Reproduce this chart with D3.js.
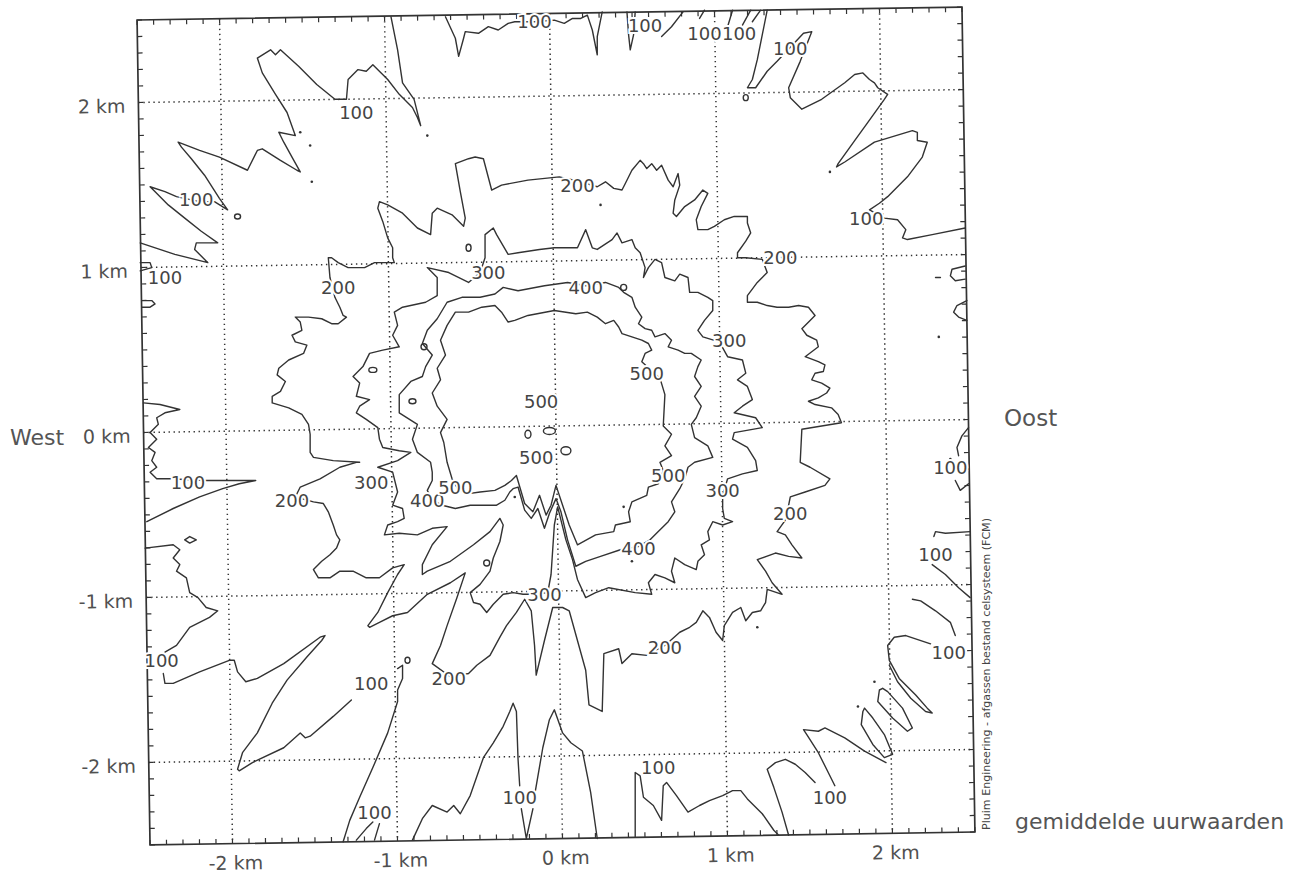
<!DOCTYPE html>
<html><head><meta charset="utf-8">
<script src="https://cdn.jsdelivr.net/npm/d3@7"></script>
<style>body{margin:0;background:#fff}svg{display:block}</style>
</head><body>
<svg id="chart" width="1300" height="884"></svg>
<script>
// ---- data (km) ----
const xTicks = [-2, -1, 0, 1, 2];
const yTicks = [2, 1, 0, -1, -2];
const xTickLabels = ["-2 km", "-1 km", "0 km", "1 km", "2 km"];
const yTickLabels = ["2 km", "1 km", "0 km", "-1 km", "-2 km"];
const levels = [100, 200, 300, 400, 500];

const contour100 = [
 [[-2.52,1.11],[-2.31,1.04],[-2.11,0.99],[-2.19,1.07],[-2.18,1.11],[-2.05,1.11],[-2.15,1.18],[-2.25,1.26],[-2.35,1.34],[-2.44,1.43],[-2.46,1.45],[-2.37,1.42],[-2.30,1.39],[-2.16,1.36],[-2.07,1.36],[-1.99,1.31],[-2.04,1.38],[-2.13,1.52],[-2.21,1.62],[-2.27,1.69],[-2.29,1.72],[-2.16,1.67],[-2.04,1.63],[-1.87,1.55],[-1.81,1.67],[-1.78,1.68],[-1.67,1.61],[-1.57,1.55],[-1.55,1.54],[-1.60,1.63],[-1.65,1.72],[-1.68,1.78],[-1.58,1.76],[-1.63,1.90],[-1.70,2.01],[-1.78,2.14],[-1.81,2.23],[-1.73,2.28],[-1.70,2.25],[-1.67,2.28],[-1.56,2.18],[-1.45,2.07],[-1.34,1.98],[-1.27,1.98],[-1.26,2.10],[-1.20,2.16],[-1.15,2.15],[-1.11,2.19],[-1.02,2.10],[-0.95,2.01],[-0.87,1.93],[-0.84,1.87],[-0.82,1.82],[-0.86,1.98],[-0.93,2.08],[-0.96,2.28],[-1.00,2.48]],
 [[-2.52,0.99],[-2.46,0.99],[-2.45,0.96],[-2.52,0.94]],
 [[-0.67,2.48],[-0.61,2.35],[-0.59,2.24],[-0.56,2.35],[-0.55,2.39],[-0.47,2.38],[-0.41,2.42],[-0.35,2.40],[-0.29,2.44],[-0.25,2.45],[-0.13,2.45],[-0.01,2.46],[0.05,2.44],[0.10,2.47],[0.15,2.47],[0.19,2.49],[0.22,2.40],[0.25,2.25],[0.25,2.36],[0.28,2.51]],
 [[0.43,2.51],[0.44,2.37],[0.45,2.28],[0.47,2.37],[0.48,2.51]],
 [[0.64,2.36],[0.70,2.42],[0.77,2.51]],
 [[0.87,2.47],[0.90,2.52]],
 [[1.04,2.42],[1.07,2.52]],
 [[1.13,2.43],[1.18,2.52]],
 [[1.19,2.45],[1.24,2.52]],
 [[1.28,2.52],[1.25,2.37],[1.22,2.22],[1.19,2.10],[1.16,2.05],[1.21,2.05],[1.28,2.15],[1.34,2.21],[1.50,2.38],[1.55,2.39],[1.48,2.21],[1.41,2.05],[1.42,1.99],[1.49,1.92],[1.61,1.98],[1.75,2.08],[1.81,2.13],[1.86,2.14],[1.90,2.10],[1.93,2.08],[1.95,2.05],[2.01,2.01],[1.99,1.98],[1.89,1.84],[1.81,1.73],[1.71,1.59],[1.70,1.57],[1.75,1.60],[1.93,1.72],[2.16,1.79],[2.19,1.78],[2.19,1.73],[2.25,1.72],[2.22,1.63],[2.13,1.51],[2.01,1.39],[1.96,1.35],[1.90,1.31],[1.99,1.26],[2.07,1.25],[2.12,1.19],[2.10,1.14],[2.13,1.13],[2.28,1.16],[2.48,1.20]],
 [[2.48,0.97],[2.40,0.95],[2.39,0.91],[2.42,0.88],[2.48,0.89]],
 [[2.30,0.90],[2.33,0.90]],
 [[2.49,0.76],[2.43,0.73],[2.41,0.69],[2.44,0.66],[2.49,0.64]],
 [[2.50,-0.01],[2.46,-0.06],[2.43,-0.13],[2.44,-0.18]],
 [[2.42,-0.33],[2.45,-0.39],[2.50,-0.35]],
 [[2.51,-0.64],[2.36,-0.65],[2.30,-0.64],[2.29,-0.67]],
 [[2.28,-0.84],[2.36,-0.90],[2.44,-0.98],[2.51,-1.04]],
 [[2.16,-1.05],[2.21,-1.06],[2.30,-1.12],[2.39,-1.19],[2.42,-1.27]],
 [[2.27,-1.32],[2.12,-1.27],[2.05,-1.28],[2.01,-1.33],[2.02,-1.42],[2.08,-1.53],[2.18,-1.63],[2.25,-1.71],[2.28,-1.74],[2.24,-1.73],[2.15,-1.65],[2.07,-1.55],[2.02,-1.45]],
 [[1.98,-1.59],[2.01,-1.61],[2.10,-1.71],[2.16,-1.83],[2.13,-1.85],[2.04,-1.77],[1.95,-1.67],[1.96,-1.60],[1.98,-1.59]],
 [[1.87,-1.71],[1.92,-1.77],[1.99,-1.87],[2.04,-1.99],[1.99,-2.01],[1.92,-1.93],[1.85,-1.81],[1.86,-1.73],[1.87,-1.71]],
 [[2.00,-2.04],[1.87,-1.97],[1.75,-1.89],[1.63,-1.83],[1.59,-1.85],[1.50,-1.84],[1.52,-1.87],[1.59,-1.98],[1.65,-2.10],[1.69,-2.18]],
 [[1.41,-2.48],[1.37,-2.34],[1.32,-2.19],[1.28,-2.08],[1.33,-2.04],[1.39,-2.02],[1.45,-2.05],[1.51,-2.10],[1.57,-2.16]],
 [[0.48,-2.49],[0.48,-2.10],[0.51,-2.12],[0.53,-2.25],[0.59,-2.30],[0.64,-2.39],[0.65,-2.18],[0.67,-2.16],[0.73,-2.24],[0.80,-2.34],[0.87,-2.30],[0.93,-2.27],[1.01,-2.24],[1.07,-2.21],[1.12,-2.21],[1.16,-2.26],[1.25,-2.35],[1.32,-2.45],[1.35,-2.48]],
 [[-0.13,-2.24],[-0.08,-1.95],[-0.04,-1.78],[-0.01,-1.72],[0.04,-1.86],[0.09,-1.92],[0.16,-1.97],[0.21,-2.22],[0.25,-2.50]],
 [[-0.21,-2.32],[-0.18,-2.50],[-0.14,-2.32]],
 [[-0.87,-2.51],[-0.81,-2.38],[-0.75,-2.30],[-0.66,-2.34],[-0.62,-2.30],[-0.58,-2.35],[-0.52,-2.24],[-0.44,-2.01],[-0.38,-1.92],[-0.32,-1.82],[-0.28,-1.73],[-0.26,-1.68],[-0.24,-1.73],[-0.23,-2.02],[-0.22,-2.18]],
 [[-1.21,-2.51],[-1.15,-2.44],[-1.11,-2.40]],
 [[-1.10,-2.51],[-1.07,-2.41]],
 [[-0.96,-1.47],[-0.93,-1.45],[-0.93,-1.53],[-0.96,-1.60],[-0.96,-1.67],[-1.02,-1.86],[-1.11,-2.07],[-1.19,-2.25],[-1.25,-2.39],[-1.29,-2.52]],
 [[-2.38,-1.50],[-2.37,-1.56],[-2.32,-1.56],[-2.16,-1.49],[-1.98,-1.42],[-1.95,-1.42],[-1.93,-1.49],[-1.88,-1.55],[-1.81,-1.53],[-1.65,-1.44],[-1.43,-1.28],[-1.40,-1.27],[-1.42,-1.30],[-1.51,-1.40],[-1.63,-1.54],[-1.72,-1.68],[-1.81,-1.86],[-1.90,-1.98],[-1.93,-2.08],[-1.92,-2.09],[-1.84,-2.04],[-1.65,-1.95],[-1.55,-1.86],[-1.52,-1.89],[-1.49,-1.88],[-1.35,-1.76],[-1.24,-1.66]],
 [[-2.49,-0.74],[-2.32,-0.72],[-2.28,-0.75],[-2.32,-0.80],[-2.28,-0.84],[-2.30,-0.88],[-2.24,-0.92],[-2.22,-1.01],[-2.17,-1.04],[-2.12,-1.10],[-2.05,-1.12],[-2.10,-1.16],[-2.22,-1.22],[-2.30,-1.33],[-2.37,-1.37]],
 [[-2.25,-0.69],[-2.22,-0.67],[-2.18,-0.69],[-2.22,-0.71],[-2.25,-0.69]],
 [[-2.50,0.14],[-2.40,0.13],[-2.28,0.10],[-2.37,0.08],[-2.42,0.05],[-2.41,0.01],[-2.46,-0.04],[-2.42,-0.08],[-2.47,-0.13],[-2.43,-0.16],[-2.45,-0.21],[-2.42,-0.25],[-2.46,-0.28],[-2.42,-0.32],[-2.34,-0.32],[-2.13,-0.33],[-1.99,-0.33],[-1.82,-0.33],[-1.92,-0.35],[-2.02,-0.38],[-2.16,-0.43],[-2.32,-0.50],[-2.48,-0.58]],
 [[-2.51,0.76],[-2.45,0.76],[-2.43,0.74],[-2.46,0.72],[-2.51,0.72]]
];

const contour200 = [
 [[-1.49,-0.05],[-1.50,0.01],[-1.54,0.07],[-1.62,0.11],[-1.72,0.14],[-1.72,0.18],[-1.67,0.21],[-1.64,0.27],[-1.69,0.31],[-1.68,0.35],[-1.62,0.40],[-1.53,0.44],[-1.51,0.49],[-1.58,0.51],[-1.60,0.55],[-1.54,0.58],[-1.55,0.63],[-1.58,0.66],[-1.50,0.66],[-1.42,0.65],[-1.36,0.62],[-1.32,0.62],[-1.27,0.66],[-1.29,0.67],[-1.31,0.72],[-1.34,0.78],[-1.37,0.90],[-1.38,1.02],[-1.36,1.02],[-1.32,0.99],[-1.26,0.96],[-1.16,0.96],[-1.10,0.99],[-0.98,0.99],[-0.99,1.02],[-0.99,1.08],[-1.02,1.14],[-1.05,1.24],[-1.08,1.32],[-1.07,1.36],[-1.02,1.34],[-0.93,1.29],[-0.84,1.20],[-0.76,1.16],[-0.75,1.29],[-0.72,1.32],[-0.63,1.28],[-0.56,1.21],[-0.55,1.26],[-0.58,1.42],[-0.61,1.59],[-0.53,1.62],[-0.49,1.63],[-0.44,1.62],[-0.39,1.43],[-0.33,1.46],[-0.17,1.49],[0.02,1.51],[0.15,1.48],[0.25,1.45],[0.30,1.48],[0.35,1.44],[0.40,1.43],[0.42,1.47],[0.46,1.55],[0.51,1.61],[0.53,1.59],[0.55,1.56],[0.58,1.59],[0.61,1.55],[0.64,1.58],[0.68,1.49],[0.71,1.45],[0.74,1.53],[0.75,1.46],[0.72,1.37],[0.71,1.29],[0.73,1.27],[0.78,1.33],[0.84,1.37],[0.89,1.43],[0.92,1.41],[0.88,1.33],[0.85,1.25],[0.86,1.19],[0.92,1.19],[0.96,1.21],[1.02,1.25],[1.08,1.27],[1.16,1.27],[1.16,1.23],[1.18,1.17],[1.15,1.12],[1.10,1.05],[1.10,1.02],[1.15,1.02],[1.25,1.01],[1.28,0.93],[1.22,0.87],[1.16,0.79],[1.16,0.75],[1.22,0.75],[1.28,0.73],[1.34,0.72],[1.41,0.72],[1.47,0.73],[1.53,0.72],[1.57,0.67],[1.54,0.64],[1.49,0.59],[1.52,0.55],[1.58,0.52],[1.59,0.48],[1.55,0.45],[1.51,0.42],[1.59,0.39],[1.63,0.37],[1.62,0.33],[1.57,0.32],[1.55,0.28],[1.61,0.26],[1.66,0.23],[1.64,0.20],[1.59,0.17],[1.53,0.15],[1.57,0.13],[1.67,0.11],[1.71,0.07],[1.73,0.02],[1.49,-0.02],[1.48,-0.22],[1.54,-0.25],[1.66,-0.32],[1.63,-0.36],[1.51,-0.40],[1.42,-0.43],[1.41,-0.48],[1.39,-0.57],[1.34,-0.64],[1.39,-0.66],[1.43,-0.72],[1.49,-0.80],[1.41,-0.79],[1.33,-0.77],[1.22,-0.81],[1.27,-0.88],[1.31,-0.95],[1.37,-1.02],[1.28,-0.99],[1.27,-1.07],[1.24,-1.12],[1.19,-1.13],[1.15,-1.18],[1.12,-1.10],[1.07,-1.13],[1.02,-1.21],[1.01,-1.30],[0.97,-1.25],[0.93,-1.16],[0.89,-1.12],[0.85,-1.19],[0.81,-1.22],[0.75,-1.25],[0.66,-1.33],[0.55,-1.39],[0.46,-1.38],[0.40,-1.44],[0.38,-1.35],[0.29,-1.38],[0.28,-1.73],[0.20,-1.69],[0.18,-1.48],[0.13,-1.30],[0.08,-1.12],[0.04,-1.10],[-0.02,-1.10],[-0.07,-1.30],[-0.12,-1.51],[-0.13,-1.33],[-0.15,-1.12],[-0.19,-1.05],[-0.24,-1.13],[-0.30,-1.21],[-0.34,-1.28],[-0.40,-1.39],[-0.48,-1.45],[-0.53,-1.50],[-0.64,-1.52],[-0.75,-1.44],[-0.70,-1.33],[-0.66,-1.21],[-0.60,-1.04],[-0.55,-0.89],[-0.64,-0.95],[-0.78,-1.02],[-0.90,-1.13],[-0.99,-1.15],[-1.07,-1.19],[-1.13,-1.22],[-1.14,-1.21],[-1.08,-1.13],[-1.02,-1.01],[-0.96,-0.90],[-0.92,-0.84],[-0.99,-0.86],[-1.07,-0.92],[-1.13,-0.92],[-1.15,-0.92],[-1.23,-0.88],[-1.31,-0.88],[-1.37,-0.92],[-1.44,-0.92],[-1.47,-0.87],[-1.42,-0.82],[-1.37,-0.78],[-1.33,-0.74],[-1.31,-0.69],[-1.33,-0.66],[-1.35,-0.60],[-1.38,-0.52],[-1.41,-0.47],[-1.47,-0.46],[-1.58,-0.43],[-1.55,-0.37],[-1.43,-0.32],[-1.31,-0.25],[-1.21,-0.22],[-1.19,-0.22],[-1.35,-0.21],[-1.47,-0.19],[-1.49,-0.16],[-1.49,-0.05]]
];

const contour300 = [
 [[-1.08,-0.25],[-0.96,-0.21],[-0.88,-0.16],[-0.95,-0.15],[-1.05,-0.13],[-1.07,-0.08],[-1.08,-0.01],[-1.15,0.04],[-1.21,0.08],[-1.19,0.12],[-1.13,0.16],[-1.21,0.18],[-1.19,0.26],[-1.23,0.30],[-1.17,0.36],[-1.13,0.44],[-1.05,0.46],[-0.95,0.48],[-0.99,0.55],[-0.96,0.61],[-0.98,0.69],[-0.93,0.72],[-0.79,0.75],[-0.72,0.79],[-0.72,0.90],[-0.78,0.96],[-0.65,0.93],[-0.53,0.87],[-0.46,0.93],[-0.43,1.02],[-0.43,1.16],[-0.38,1.20],[-0.36,1.16],[-0.29,1.04],[-0.23,1.05],[-0.10,1.07],[-0.01,1.08],[0.13,1.08],[0.18,1.19],[0.22,1.08],[0.25,1.07],[0.34,1.13],[0.37,1.17],[0.40,1.11],[0.46,1.13],[0.48,1.08],[0.51,1.05],[0.54,0.96],[0.53,0.90],[0.56,0.96],[0.60,1.01],[0.64,0.99],[0.66,0.90],[0.72,0.88],[0.75,0.92],[0.80,0.90],[0.81,0.81],[0.86,0.81],[0.92,0.78],[0.95,0.76],[0.95,0.70],[0.90,0.64],[0.86,0.58],[0.89,0.54],[0.99,0.51],[1.04,0.42],[1.13,0.40],[1.15,0.32],[1.10,0.28],[1.16,0.24],[1.19,0.16],[1.13,0.12],[1.08,0.08],[1.21,0.05],[1.25,-0.01],[1.08,-0.04],[1.07,-0.08],[1.16,-0.13],[1.21,-0.21],[1.22,-0.27],[1.13,-0.29],[1.04,-0.32],[1.01,-0.42],[1.01,-0.50],[1.02,-0.56],[1.07,-0.58],[1.01,-0.60],[0.95,-0.58],[0.92,-0.64],[0.93,-0.69],[0.88,-0.72],[0.90,-0.78],[0.86,-0.82],[0.85,-0.87],[0.78,-0.84],[0.72,-0.80],[0.70,-0.88],[0.72,-0.95],[0.66,-0.92],[0.60,-0.90],[0.56,-0.95],[0.58,-1.02],[0.48,-1.01],[0.32,-0.98],[0.24,-1.01],[0.18,-1.04],[0.13,-0.93],[0.10,-0.81],[0.06,-0.69],[0.03,-0.57],[0.01,-0.49],[-0.01,-0.60],[-0.02,-0.75],[-0.03,-0.90],[-0.05,-1.01],[-0.13,-1.02],[-0.20,-1.02],[-0.26,-1.01],[-0.32,-1.02],[-0.38,-1.08],[-0.42,-1.13],[-0.46,-1.08],[-0.50,-1.07],[-0.52,-1.01],[-0.46,-0.96],[-0.40,-0.88],[-0.38,-0.80],[-0.34,-0.70],[-0.32,-0.60],[-0.34,-0.56],[-0.40,-0.64],[-0.50,-0.72],[-0.64,-0.82],[-0.78,-0.88],[-0.81,-0.90],[-0.81,-0.84],[-0.75,-0.72],[-0.66,-0.61],[-0.75,-0.62],[-0.84,-0.66],[-0.95,-0.65],[-1.04,-0.66],[-1.02,-0.60],[-0.96,-0.58],[-0.92,-0.56],[-0.93,-0.50],[-0.99,-0.48],[-0.96,-0.40],[-0.99,-0.28],[-1.08,-0.25]]
];

const contour400 = [
 [[-0.75,-0.28],[-0.76,-0.22],[-0.84,-0.16],[-0.87,-0.08],[-0.84,0.01],[-0.95,0.08],[-0.95,0.19],[-0.88,0.27],[-0.81,0.30],[-0.79,0.36],[-0.75,0.43],[-0.81,0.50],[-0.78,0.58],[-0.72,0.65],[-0.66,0.75],[-0.57,0.78],[-0.46,0.78],[-0.37,0.80],[-0.32,0.84],[-0.23,0.82],[-0.07,0.85],[0.07,0.87],[0.18,0.85],[0.30,0.87],[0.38,0.84],[0.41,0.81],[0.46,0.78],[0.48,0.72],[0.52,0.66],[0.50,0.62],[0.54,0.59],[0.58,0.58],[0.60,0.54],[0.66,0.56],[0.70,0.52],[0.68,0.48],[0.74,0.46],[0.78,0.44],[0.82,0.44],[0.88,0.40],[0.86,0.36],[0.84,0.30],[0.88,0.24],[0.84,0.18],[0.88,0.12],[0.85,0.05],[0.82,0.01],[0.84,-0.07],[0.92,-0.12],[0.95,-0.19],[0.84,-0.22],[0.80,-0.25],[0.78,-0.32],[0.75,-0.38],[0.70,-0.46],[0.72,-0.52],[0.68,-0.58],[0.62,-0.64],[0.57,-0.69],[0.50,-0.73],[0.39,-0.75],[0.27,-0.79],[0.18,-0.82],[0.12,-0.85],[0.07,-0.69],[0.03,-0.52],[0.00,-0.44],[-0.04,-0.53],[-0.07,-0.62],[-0.11,-0.50],[-0.15,-0.56],[-0.19,-0.51],[-0.23,-0.37],[-0.26,-0.38],[-0.28,-0.40],[-0.31,-0.45],[-0.36,-0.48],[-0.43,-0.48],[-0.52,-0.48],[-0.61,-0.50],[-0.69,-0.48],[-0.75,-0.45],[-0.78,-0.39],[-0.75,-0.33],[-0.75,-0.28]]
];

const contour500 = [
 [[-0.68,-0.10],[-0.70,-0.04],[-0.66,0.04],[-0.72,0.12],[-0.75,0.20],[-0.70,0.28],[-0.72,0.35],[-0.67,0.43],[-0.70,0.52],[-0.66,0.61],[-0.61,0.69],[-0.53,0.69],[-0.45,0.72],[-0.37,0.73],[-0.33,0.69],[-0.29,0.63],[-0.25,0.64],[-0.17,0.67],[-0.01,0.70],[0.12,0.68],[0.19,0.69],[0.25,0.66],[0.30,0.62],[0.35,0.64],[0.38,0.60],[0.40,0.56],[0.46,0.54],[0.52,0.52],[0.56,0.50],[0.58,0.46],[0.54,0.44],[0.52,0.39],[0.63,0.29],[0.66,0.19],[0.65,0.00],[0.70,-0.05],[0.66,-0.12],[0.70,-0.18],[0.63,-0.22],[0.65,-0.27],[0.62,-0.35],[0.56,-0.37],[0.55,-0.42],[0.46,-0.46],[0.44,-0.52],[0.45,-0.58],[0.36,-0.60],[0.35,-0.64],[0.24,-0.66],[0.13,-0.72],[0.08,-0.60],[0.04,-0.48],[0.00,-0.36],[-0.03,-0.48],[-0.06,-0.54],[-0.10,-0.42],[-0.14,-0.52],[-0.19,-0.47],[-0.24,-0.30],[-0.27,-0.33],[-0.31,-0.36],[-0.37,-0.39],[-0.46,-0.40],[-0.53,-0.41],[-0.59,-0.39],[-0.63,-0.32],[-0.66,-0.22],[-0.68,-0.10]]
];

const contourLabels = [
 [100,-1.21,1.90],[100,-2.18,1.37],[100,-2.37,0.90],[100,-0.13,2.45],[100,0.54,2.43],[100,0.90,2.38],[100,1.11,2.38],[100,1.42,2.29],[100,1.88,1.26],[100,2.39,-0.25],[100,2.30,-0.78],[100,2.38,-1.37],[100,1.66,-2.25],[100,0.62,-2.07],[100,-0.22,-2.25],[100,-1.10,-2.34],[100,-1.12,-1.56],[100,-2.39,-1.42],[100,-2.23,-0.34],
 [200,-1.32,0.84],[200,0.13,1.46],[200,1.36,1.02],[200,1.42,-0.53],[200,0.66,-1.34],[200,-0.65,-1.53],[200,-1.60,-0.45],
 [300,-0.41,0.93],[300,1.05,0.52],[300,1.01,-0.39],[300,-1.12,-0.34],[300,-0.07,-1.02],
 [400,0.18,0.84],[400,0.50,-0.74],[400,-0.78,-0.45],
 [500,0.55,0.32],[500,0.68,-0.30],[500,-0.61,-0.37],[500,-0.09,0.15],[500,-0.12,-0.19]
];
// small closed rings [x, y, rx(px), ry(px)]
const smallRings = [[-1.93,1.27,3,2.5],[1.15,1.99,2.5,3],[-0.90,-1.42,2.5,3],[-1.11,0.34,4,2.5],[-0.80,0.48,3,3],[-0.87,0.15,3.5,2.5],[-0.42,-0.83,3,3],[0.41,0.84,3,3],[-0.53,1.08,2.5,3.5],[-0.04,-0.03,6,3.5],[-0.17,-0.05,3,4],[0.06,-0.15,5,4]];
const specks = [[-1.55,1.78],[-1.49,1.70],[-1.48,1.48],[-0.78,1.76],[1.66,1.54],[2.32,0.54],[0.27,1.34],[1.93,-1.55],[1.83,-1.70],[1.22,-1.22],[0.41,-0.49],[0.46,-0.82],[-0.25,-0.43],[2.39,-0.20]];

// ---- drawing ----
const svg = d3.select("#chart");
const x = d3.scaleLinear().domain([-2.5, 2.5]).range([143.5, 968.5]);
const y = d3.scaleLinear().domain([-2.5, 2.5]).range([838.5, 13.5]);
const ink = "#333";
const font = "'DejaVu Sans', Arial, sans-serif";

const frame = svg.append("g").attr("transform", "rotate(-0.9,556,426)");

// dotted grid
const gridStyle = g => g.attr("stroke", "#333").attr("stroke-width", 1.5).attr("stroke-dasharray", "1.4,3.6");
frame.selectAll(".gx").data(xTicks).join("line")
  .attr("x1", d => x(d)).attr("x2", d => x(d)).attr("y1", y(2.5)).attr("y2", y(-2.5)).call(gridStyle);
frame.selectAll(".gy").data(yTicks).join("line")
  .attr("y1", d => y(d)).attr("y2", d => y(d)).attr("x1", x(-2.5)).attr("x2", x(2.5)).call(gridStyle);

// minor ticks every 0.1 km, inward on all sides
const minor = d3.range(-25, 26).map(i => i / 10);
const tk = 5;
const tickG = frame.append("g").attr("stroke", ink).attr("stroke-width", 1.2);
tickG.append("g").selectAll("line").data(minor).join("line")
  .attr("x1", d => x(d)).attr("x2", d => x(d)).attr("y1", y(-2.5)).attr("y2", y(-2.5) - tk);
tickG.append("g").selectAll("line").data(minor).join("line")
  .attr("x1", d => x(d)).attr("x2", d => x(d)).attr("y1", y(2.5)).attr("y2", y(2.5) + tk);
tickG.append("g").selectAll("line").data(minor).join("line")
  .attr("y1", d => y(d)).attr("y2", d => y(d)).attr("x1", x(-2.5)).attr("x2", x(-2.5) + tk);
tickG.append("g").selectAll("line").data(minor).join("line")
  .attr("y1", d => y(d)).attr("y2", d => y(d)).attr("x1", x(2.5)).attr("x2", x(2.5) - tk);

frame.append("rect").attr("x", x(-2.5)).attr("y", y(2.5))
  .attr("width", x(2.5) - x(-2.5)).attr("height", y(-2.5) - y(2.5))
  .attr("fill", "none").attr("stroke", ink).attr("stroke-width", 1.7);

// tick labels
frame.selectAll(".yl").data(yTicks).join("text")
  .attr("x", x(-2.5) - 13).attr("y", d => y(d) + 3).attr("text-anchor", "end")
  .attr("dominant-baseline", "central").attr("font-family", font).attr("font-size", 19)
  .attr("fill", "#505050").text((d, i) => yTickLabels[i]);
frame.selectAll(".xl").data(xTicks).join("text")
  .attr("x", d => x(d) + 3).attr("y", y(-2.5) + 19).attr("text-anchor", "middle")
  .attr("dominant-baseline", "central").attr("font-family", font).attr("font-size", 19)
  .attr("fill", "#505050").text((d, i) => xTickLabels[i]);

// contours
const line = d3.line().x(d => x(d[0])).y(d => y(d[1]));
const cg = svg.append("g").attr("fill", "none").attr("stroke", ink).attr("stroke-width", 1.4)
  .attr("stroke-linejoin", "round").attr("stroke-linecap", "round");
[contour100, contour200, contour300, contour400, contour500].forEach((set, k) => {
  cg.append("g").attr("class", "level-" + levels[k]).selectAll("path").data(set).join("path").attr("d", line);
});
cg.append("g").selectAll("ellipse").data(smallRings).join("ellipse")
  .attr("cx", d => x(d[0])).attr("cy", d => y(d[1])).attr("rx", d => d[2]).attr("ry", d => d[3]);
svg.append("g").selectAll("circle").data(specks).join("circle")
  .attr("cx", d => x(d[0])).attr("cy", d => y(d[1])).attr("r", 1.3).attr("fill", ink);

// contour labels
svg.append("g").selectAll("text").data(contourLabels).join("text")
  .attr("x", d => x(d[1])).attr("y", d => y(d[2]))
  .attr("text-anchor", "middle").attr("dominant-baseline", "central")
  .attr("font-family", font).attr("font-size", 18).attr("fill", "#444")
  .attr("stroke", "#fff").attr("stroke-width", 4).attr("paint-order", "stroke")
  .text(d => d[0]);

// side texts
svg.append("text").attr("x", 10).attr("y", 445).attr("font-family", font).attr("font-size", 22)
  .attr("fill", "#555").text("West");
svg.append("text").attr("x", 1004).attr("y", 426).attr("font-family", font).attr("font-size", 23)
  .attr("fill", "#555").text("Oost");
svg.append("text").attr("x", 1015).attr("y", 829).attr("font-family", font).attr("font-size", 22)
  .attr("fill", "#555").text("gemiddelde uurwaarden");
svg.append("text").attr("transform", "translate(990,830) rotate(-90)")
  .attr("font-family", font).attr("font-size", 10).attr("fill", "#444")
  .attr("textLength", 312).attr("lengthAdjust", "spacingAndGlyphs")
  .text("Pluim Engineering - afgassen bestand celsysteem (FCM)");
</script>
</body></html>
